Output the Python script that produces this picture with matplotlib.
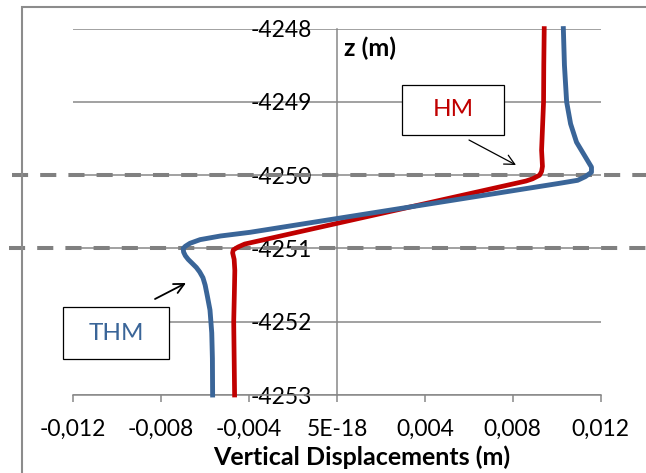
import matplotlib
matplotlib.use("Agg")
import matplotlib.pyplot as plt
from matplotlib.patches import Rectangle
from matplotlib.transforms import blended_transform_factory

plt.rcParams['font.family'] = ['Lato', 'DejaVu Sans']

# ---- data ----
hm_z = [-4248, -4248.5, -4249, -4249.66, -4249.88, -4249.95, -4250.0, -4250.05, -4250.08,
        -4250.94, -4250.98, -4251.02, -4251.06, -4251.15, -4251.3, -4251.6, -4252, -4252.5, -4253]
hm_x = [0.00943, 0.00941, 0.0094, 0.00931, 0.00935, 0.00931, 0.00922, 0.0089, 0.0086,
        -0.0042, -0.0045, -0.00472, -0.00475, -0.00468, -0.00465, -0.00467, -0.0047, -0.00468, -0.00466]

thm_z = [-4248, -4248.5, -4249, -4249.3, -4249.55, -4249.75, -4249.89, -4249.96,
         -4250.02, -4250.07, -4250.11, -4250.78, -4250.83, -4250.88, -4250.93, -4250.97,
         -4251.0, -4251.05, -4251.1, -4251.15, -4251.2, -4251.26, -4251.32, -4251.4,
         -4251.5, -4251.65, -4251.84, -4252.15, -4252.5, -4253]
thm_x = [0.0103, 0.01035, 0.01045, 0.01063, 0.0109, 0.0113, 0.01158, 0.01158,
         0.0113, 0.01095, 0.01015, -0.00396, -0.0053, -0.00623, -0.00669, -0.0069,
         -0.0070, -0.00698, -0.0069, -0.00677, -0.0066, -0.0064, -0.00625, -0.0061,
         -0.0060, -0.0059, -0.00578, -0.0057, -0.00567, -0.00566]

x_ticks = [-0.012, -0.008, -0.004, 0.0, 0.004, 0.008, 0.012]
x_tick_labels = ['-0,012', '-0,008', '-0,004', '5E-18', '0,004', '0,008', '0,012']
y_ticks = [-4253, -4252, -4251, -4250, -4249, -4248]
y_tick_labels = ['-4253', '-4252', '-4251', '-4250', '-4249', '-4248']
layer_bounds = [-4250, -4251]

RED = '#C00000'
BLUE = '#3A6598'
GRAY = '#878787'

W, H = 646, 473
fig = plt.figure(figsize=(W / 100, H / 100), dpi=100)
ax = fig.add_axes([73.3 / W, 78 / H, 527.4 / W, 366.4 / H])
ax.set_xlim(-0.012, 0.012)
ax.set_ylim(-4253, -4248)

# spines
for s in ['top', 'right']:
    ax.spines[s].set_visible(False)
ax.spines['left'].set_position(('data', 0))
ax.spines['left'].set_color(GRAY)
ax.spines['left'].set_linewidth(1.1)
ax.spines['bottom'].set_color(GRAY)
ax.spines['bottom'].set_linewidth(1.1)
ax.spines['bottom'].set_zorder(1)

ax.set_xticks(x_ticks)
ax.set_xticklabels(x_tick_labels, fontsize=16.5)
ax.set_yticks(y_ticks)
ax.set_yticklabels(y_tick_labels, fontsize=16.5)
ax.tick_params(axis='x', direction='out', length=5, width=1.1, color=GRAY, pad=12)
ax.tick_params(axis='y', length=0, pad=18)
ax.grid(axis='y', color=GRAY, lw=1.1, zorder=0)
ax.set_axisbelow(True)

# layer boundary dashed lines spanning the whole figure width
trans = blended_transform_factory(fig.transFigure, ax.transData)
starts = [12, 9]
for zb, st in zip(layer_bounds, starts):
    ax.plot([st / W, 1.0], [zb, zb], transform=trans, color='#808080', lw=2.9,
            linestyle=(0, (4, 3)), dash_capstyle='butt', clip_on=False, zorder=2)

# curves
ax.plot(hm_x, hm_z, color=RED, lw=3.4, solid_joinstyle='round', zorder=3, clip_on=False)
ax.plot(thm_x, thm_z, color=BLUE, lw=3.5, solid_joinstyle='round', zorder=4, clip_on=False)

# outer frame
fig.add_artist(Rectangle((22 / W, -0.2), 2.0, (H - 7.5) / H + 0.2, transform=fig.transFigure,
                         fill=False, edgecolor='#8c8c8c', lw=1.5))

# axis titles
fig.text(344 / W, 1 - 48 / H, 'z (m)', fontsize=18, fontweight='bold', ha='left', va='center')
fig.text(362 / W, 1 - 457 / H, 'Vertical Displacements (m)', fontsize=18,
         fontweight='bold', ha='center', va='center')

# label boxes
fig.add_artist(Rectangle((402 / W, 1 - 135 / H), 102 / W, 50 / H, transform=fig.transFigure,
                         facecolor='white', edgecolor='black', lw=0.9, zorder=5))
fig.text(453 / W, 1 - 110 / H, 'HM', color=RED, fontsize=17.5, ha='center', va='center', zorder=6)
fig.add_artist(Rectangle((63 / W, 1 - 359 / H), 106 / W, 52 / H, transform=fig.transFigure,
                         facecolor='white', edgecolor='black', lw=0.9, zorder=5))
fig.text(116 / W, 1 - 333 / H, 'THM', color=BLUE, fontsize=17.5, ha='center', va='center', zorder=6)

# arrows
ax.annotate('', xy=(516, H - 165), xytext=(469, H - 140), xycoords='figure pixels',
            textcoords='figure pixels',
            arrowprops=dict(arrowstyle='->', lw=0.9, color='black', mutation_scale=18,
                            shrinkA=0, shrinkB=0))
ax.annotate('', xy=(186, H - 283), xytext=(155, H - 299), xycoords='figure pixels',
            textcoords='figure pixels',
            arrowprops=dict(arrowstyle='->', lw=1.3, color='black', mutation_scale=18,
                            shrinkA=0, shrinkB=0))

fig.savefig('out.png', dpi=100)
